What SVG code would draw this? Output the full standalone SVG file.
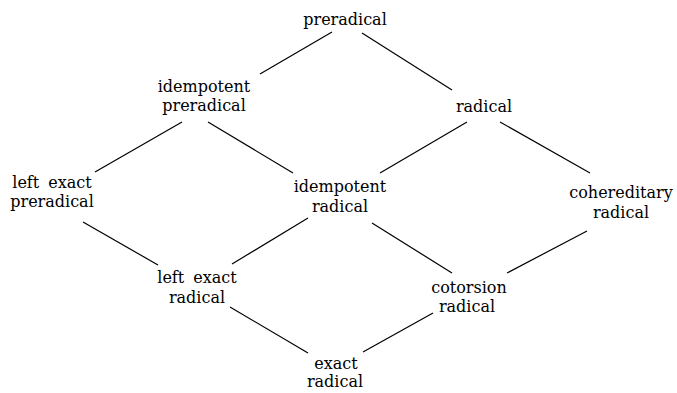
<svg xmlns="http://www.w3.org/2000/svg" width="677" height="393" viewBox="0 0 677 393">
<style>
text{font-family:"DejaVu Serif","Liberation Serif",serif;font-size:16px;fill:#000;text-anchor:middle;word-spacing:4px}
.e line{stroke:#000;stroke-width:1.2}
</style>
<rect width="677" height="393" fill="#fff"/>
<g class="e" id="connectors">
<line x1="260" y1="74" x2="332" y2="32"/>
<line x1="362" y1="33" x2="452" y2="90"/>
<line x1="182" y1="122" x2="95" y2="172"/>
<line x1="208" y1="122" x2="293" y2="173"/>
<line x1="467" y1="122" x2="380" y2="173"/>
<line x1="500" y1="122" x2="590" y2="173"/>
<line x1="83" y1="222" x2="158" y2="265"/>
<line x1="308" y1="218" x2="232" y2="264"/>
<line x1="230" y1="307" x2="308" y2="353"/>
<line x1="372" y1="223" x2="452" y2="273"/>
<line x1="587" y1="231" x2="507" y2="273"/>
<line x1="433" y1="313" x2="363" y2="352"/>
</g>
<g id="preradical"><text x="345" y="25">preradical</text></g>
<g id="idempotent-preradical"><text x="204" y="92">idempotent</text><text x="204" y="111">preradical</text></g>
<g id="radical"><text x="484" y="112">radical</text></g>
<g id="left-exact-preradical"><text x="52" y="188">left exact</text><text x="52" y="207">preradical</text></g>
<g id="idempotent-radical"><text x="340" y="192">idempotent</text><text x="340" y="212">radical</text></g>
<g id="cohereditary-radical"><text x="621" y="198">cohereditary</text><text x="621" y="218">radical</text></g>
<g id="left-exact-radical"><text x="197" y="283">left exact</text><text x="197" y="303">radical</text></g>
<g id="cotorsion-radical"><text x="469" y="293">cotorsion</text><text x="467" y="312">radical</text></g>
<g id="exact-radical"><text x="336" y="369">exact</text><text x="335" y="387">radical</text></g>
</svg>
